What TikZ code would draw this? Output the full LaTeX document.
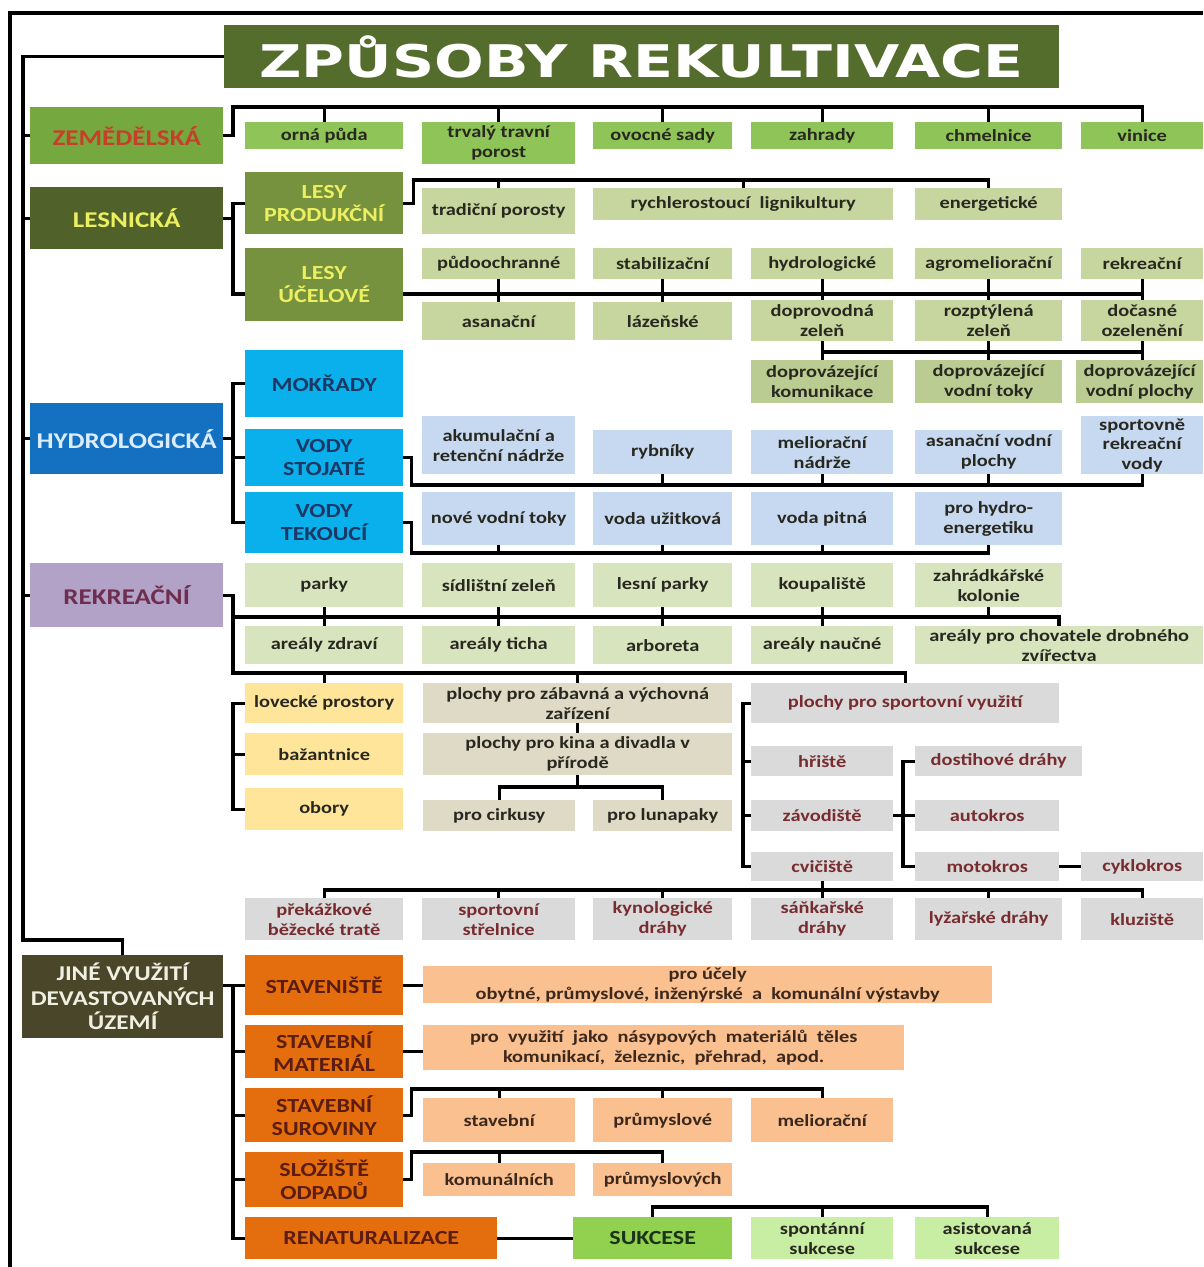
\documentclass[tikz,border=0pt]{standalone}
\usepackage{fontspec}
\newfontface\bx{Carlito Bold}[FakeStretch=1.2]
\newfontface\ttlf{DejaVu Sans Bold}[FakeStretch=1.3]
\usetikzlibrary{calc}
\definecolor{cTitle}{RGB}{84,108,44}
\definecolor{cZem}{RGB}{118,168,64}
\definecolor{tZem}{RGB}{196,64,40}
\definecolor{cZemL}{RGB}{143,196,88}
\definecolor{cLes}{RGB}{80,98,42}
\definecolor{tYel}{RGB}{236,240,96}
\definecolor{cLesy}{RGB}{118,146,62}
\definecolor{cOliveL}{RGB}{198,214,158}
\definecolor{cOliveM}{RGB}{186,204,146}
\definecolor{cHyd}{RGB}{20,112,192}
\definecolor{tHyd}{RGB}{220,236,255}
\definecolor{cCyan}{RGB}{10,176,236}
\definecolor{tNavy}{RGB}{28,56,100}
\definecolor{cBlueL}{RGB}{198,217,240}
\definecolor{cRek}{RGB}{178,162,200}
\definecolor{tRek}{RGB}{110,46,80}
\definecolor{cRekL}{RGB}{216,228,190}
\definecolor{cYel}{RGB}{254,229,154}
\definecolor{cBeige}{RGB}{222,218,198}
\definecolor{cGray}{RGB}{218,218,218}
\definecolor{tMaroon}{RGB}{120,44,48}
\definecolor{cJine}{RGB}{74,70,42}
\definecolor{tJine}{RGB}{240,240,226}
\definecolor{cOr}{RGB}{228,110,14}
\definecolor{tOr}{RGB}{92,28,16}
\definecolor{cOrL}{RGB}{250,192,144}
\definecolor{tOrL}{RGB}{60,40,28}
\definecolor{cSuk}{RGB}{146,208,80}
\definecolor{tSuk}{RGB}{26,52,26}
\definecolor{cSukL}{RGB}{200,238,164}
\definecolor{tDark}{RGB}{40,40,32}
\newcommand\mybox[7]{\node[#6, anchor=north west, minimum width={(#4)-(#2)}, minimum height={(#5)-(#3)}] (#1) at (#2,#3) {#7};}
\tikzset{
  basebox/.style={inner sep=0pt, align=center, draw=none},
  leaf/.style={basebox, font=\bx\fontsize{17}{20}\selectfont, text=tDark},
  subbox/.style={basebox, font=\bx\fontsize{20}{23}\selectfont},
  catbox/.style={basebox, font=\bx\fontsize{22.5}{25}\selectfont},
  ttlbox/.style={basebox, fill=cTitle, text=white, font=\ttlf\fontsize{45}{48}\selectfont},
  jinbox/.style={basebox, fill=cJine, text=tJine, font=\bx\fontsize{21}{24.5}\selectfont},
  lfZem/.style={leaf, fill=cZemL},
  lfOl/.style={leaf, fill=cOliveL},
  lfOm/.style={leaf, fill=cOliveM},
  lfBl/.style={leaf, fill=cBlueL},
  lfRk/.style={leaf, fill=cRekL},
  lfYe/.style={leaf, fill=cYel},
  lfBe/.style={leaf, fill=cBeige},
  lfGr/.style={leaf, fill=cGray, text=tMaroon},
  lfOr/.style={leaf, fill=cOrL, text=tOrL},
  lfSk/.style={leaf, fill=cSukL},
  lesy/.style={subbox, fill=cLesy, text=tYel},
  voda/.style={subbox, fill=cCyan, text=tNavy},
  oran/.style={subbox, fill=cOr, text=tOr},
  ln/.style={line width=3.4pt, draw=black}
}
\begin{document}
\begin{tikzpicture}[x=1pt,y=-1pt]
\fill[white] (0,0) rectangle (1203,1267);
\useasboundingbox (0,0) rectangle (1203,1267);
% ---------- nodes ----------
\mybox{title}{224}{25}{1059}{88}{ttlbox}{ZPŮSOBY REKULTIVACE}
\mybox{zem}{30}{107}{223}{164}{catbox,fill=cZem,text=tZem}{ZEMĚDĚLSKÁ}
\mybox{les}{30}{187}{223}{249}{catbox,fill=cLes,text=tYel}{LESNICKÁ}
\mybox{hyd}{30}{403}{223}{474}{catbox,fill=cHyd,text=tHyd}{HYDROLOGICKÁ}
\mybox{rek}{30}{563}{223}{627}{catbox,fill=cRek,text=tRek}{REKREAČNÍ}
\mybox{jine}{22}{955}{223}{1038}{jinbox}{JINÉ VYUŽITÍ\\DEVASTOVANÝCH\\ÚZEMÍ}
% zemedelska
\mybox{orna}{245}{122}{403}{149}{lfZem}{orná půda}
\mybox{trvaly}{422}{122}{575}{164}{lfZem}{trvalý travní\\porost}
\mybox{ovocne}{593}{122}{732}{149}{lfZem}{ovocné sady}
\mybox{zahrady}{751}{122}{893}{149}{lfZem}{zahrady}
\mybox{chmel}{915}{122}{1062}{149}{lfZem}{chmelnice}
\mybox{vinice}{1081}{122}{1203}{149}{lfZem}{vinice}
% lesnicka
\mybox{lprod}{245}{172}{403}{234}{lesy}{LESY\\PRODUKČNÍ}
\mybox{luc}{245}{248}{403}{321}{lesy}{LESY\\ÚČELOVÉ}
\mybox{trad}{422}{188}{575}{234}{lfOl}{tradiční porosty}
\mybox{rych}{593}{188}{893}{220}{lfOl}{rychlerostoucí\ \ lignikultury}
\mybox{energ}{915}{188}{1062}{220}{lfOl}{energetické}
\mybox{pudo}{422}{248}{575}{279}{lfOl}{půdoochranné}
\mybox{stab}{593}{248}{732}{279}{lfOl}{stabilizační}
\mybox{hydr}{751}{248}{893}{279}{lfOl}{hydrologické}
\mybox{agro}{915}{248}{1062}{279}{lfOl}{agromeliorační}
\mybox{rekr}{1081}{248}{1203}{279}{lfOl}{rekreační}
\mybox{asan}{422}{302}{575}{340}{lfOl}{asanační}
\mybox{laz}{593}{302}{732}{340}{lfOl}{lázeňské}
\mybox{doprov}{751}{300}{893}{341}{lfOl}{doprovodná\\zeleň}
\mybox{rozpt}{915}{300}{1062}{341}{lfOl}{rozptýlená\\zeleň}
\mybox{docas}{1081}{300}{1203}{341}{lfOl}{dočasné\\ozelenění}
\mybox{dk}{751}{360}{893}{403}{lfOm}{doprovázející\\komunikace}
\mybox{dt}{915}{360}{1062}{403}{lfOm}{doprovázející\\vodní toky}
\mybox{dp}{1076}{360}{1203}{403}{lfOm}{doprovázející\\vodní plochy}
% hydrologicka
\mybox{mok}{245}{350}{403}{417}{voda}{MOKŘADY}
\mybox{vst}{245}{429}{403}{486}{voda}{VODY\\STOJATÉ}
\mybox{vtek}{245}{492}{403}{553}{voda}{VODY\\TEKOUCÍ}
\mybox{akum}{422}{416}{575}{474}{lfBl}{akumulační a\\retenční nádrže}
\mybox{ryb}{593}{430}{732}{474}{lfBl}{rybníky}
\mybox{melnad}{751}{430}{893}{474}{lfBl}{meliorační\\nádrže}
\mybox{asvod}{915}{430}{1062}{474}{lfBl}{asanační vodní\\plochy}
\mybox{spr}{1081}{416}{1203}{474}{lfBl,font=\bx\fontsize{17}{19.5}\selectfont}{sportovně\\rekreační\\vody}
\mybox{nove}{422}{492}{575}{545}{lfBl}{nové vodní toky}
\mybox{uzit}{593}{492}{732}{545}{lfBl}{voda užitková}
\mybox{pitna}{751}{492}{893}{545}{lfBl}{voda pitná}
\mybox{hydroen}{915}{492}{1062}{545}{lfBl}{pro hydro-\\energetiku}
% rekreacni
\mybox{parky}{245}{563}{403}{607}{lfRk}{parky}
\mybox{sidl}{422}{563}{575}{607}{lfRk}{sídlištní zeleň}
\mybox{lesni}{593}{563}{732}{607}{lfRk}{lesní parky}
\mybox{koup}{751}{563}{893}{607}{lfRk}{koupaliště}
\mybox{zahr}{915}{563}{1062}{607}{lfRk}{zahrádkářské\\kolonie}
\mybox{zdravi}{245}{626}{403}{664}{lfRk}{areály zdraví}
\mybox{ticha}{422}{626}{575}{664}{lfRk}{areály ticha}
\mybox{arbo}{593}{626}{732}{664}{lfRk}{arboreta}
\mybox{naucne}{751}{626}{893}{664}{lfRk}{areály naučné}
\mybox{chov}{915}{626}{1203}{664}{lfRk}{areály pro chovatele drobného\\zvířectva}
\mybox{lov}{245}{683}{403}{723}{lfYe}{lovecké prostory}
\mybox{baz}{245}{733}{403}{775}{lfYe}{bažantnice}
\mybox{obo}{245}{788}{403}{830}{lfYe}{obory}
\mybox{zab}{423}{683}{732}{723}{lfBe}{plochy pro zábavná a výchovná\\zařízení}
\mybox{kina}{423}{733}{732}{775}{lfBe}{plochy pro kina a divadla v\\přírodě}
\mybox{cirk}{423}{800}{575}{831}{lfBe}{pro cirkusy}
\mybox{luna}{593}{800}{732}{831}{lfBe}{pro lunapaky}
\mybox{sport}{751}{683}{1059}{723}{lfGr}{plochy pro sportovní využití}
\mybox{hrist}{751}{746}{893}{776}{lfGr}{hřiště}
\mybox{zavod}{751}{800}{893}{831}{lfGr}{závodiště}
\mybox{cvic}{751}{852}{893}{881}{lfGr}{cvičiště}
\mybox{dost}{915}{746}{1082}{776}{lfGr}{dostihové dráhy}
\mybox{auto}{915}{800}{1059}{831}{lfGr}{autokros}
\mybox{moto}{915}{852}{1059}{881}{lfGr}{motokros}
\mybox{cyklo}{1081}{852}{1203}{881}{lfGr}{cyklokros}
\mybox{prek}{245}{898}{403}{940}{lfGr}{překážkové\\běžecké tratě}
\mybox{strel}{422}{898}{575}{940}{lfGr}{sportovní\\střelnice}
\mybox{kyno}{593}{898}{732}{940}{lfGr}{kynologické\\dráhy}
\mybox{sank}{751}{898}{893}{940}{lfGr}{sáňkařské\\dráhy}
\mybox{lyz}{915}{898}{1062}{940}{lfGr}{lyžařské dráhy}
\mybox{kluz}{1081}{898}{1203}{940}{lfGr}{kluziště}
% jine vyuziti
\mybox{stav}{245}{955}{403}{1015}{oran}{STAVENIŠTĚ}
\mybox{mat}{245}{1025}{403}{1078}{oran}{STAVEBNÍ\\MATERIÁL}
\mybox{sur}{245}{1088}{403}{1142}{oran}{STAVEBNÍ\\SUROVINY}
\mybox{slo}{245}{1152}{403}{1207}{oran}{SLOŽIŠTĚ\\ODPADŮ}
\mybox{ren}{245}{1217}{497}{1259}{oran}{RENATURALIZACE}
\mybox{ucely}{423}{966}{992}{1003}{lfOr}{pro účely\\obytné, průmyslové, inženýrské\ \ a\ \ komunální výstavby}
\mybox{nasyp}{423}{1025}{904}{1070}{lfOr}{pro\ \ využití\ \ jako\ \ násypových\ \ materiálů\ \ těles\\komunikací,\ \ železnic,\ \ přehrad,\ \ apod.}
\mybox{stavebni}{423}{1098}{575}{1142}{lfOr}{stavební}
\mybox{prumysl}{593}{1098}{732}{1142}{lfOr}{průmyslové}
\mybox{melio}{751}{1098}{893}{1142}{lfOr}{meliorační}
\mybox{komun}{423}{1163}{575}{1196}{lfOr}{komunálních}
\mybox{prumyslovych}{593}{1163}{732}{1196}{lfOr}{průmyslových}
\mybox{suk}{573}{1217}{732}{1259}{subbox,fill=cSuk,text=tSuk}{SUKCESE}
\mybox{spont}{751}{1217}{893}{1259}{lfSk}{spontánní\\sukcese}
\mybox{asist}{915}{1217}{1059}{1259}{lfSk}{asistovaná\\sukcese}
% ---------- helper coordinates ----------
\coordinate (frtl) at (10,13);
\coordinate (frtr) at (1203,13);
\coordinate (frbl) at (10,1267);
\coordinate (innerx) at (23,0);
\coordinate (jbend) at (0,940);
\coordinate (bx1) at (233,0);
\coordinate (bx3) at (743,0);
\coordinate (bx4) at (903,0);
\coordinate (zbus) at (0,107);
\coordinate (lpbus) at (0,180);
\coordinate (lucbus) at (0,294);
\coordinate (dzbus) at (0,352);
\coordinate (vsbus) at (0,485);
\coordinate (vtbus) at (0,553);
\coordinate (rbus1) at (0,617);
\coordinate (rbus2) at (0,673);
\coordinate (rb1end) at (1059,617);
\coordinate (kbus) at (0,787);
\coordinate (sbus) at (0,890);
\coordinate (surbus) at (0,1089);
\coordinate (slobus) at (0,1152);
\coordinate (sukbus) at (0,1207);
% ---------- connectors ----------
\draw[ln] (frtr) -- (frtl) -- (frbl);
\draw[ln] (title.west) -- (title.west -| innerx) -- (innerx |- jbend) -| (jine.north);
\foreach \n in {zem,les,hyd,rek} {\draw[ln] (\n.west) -- (\n.west -| innerx);}
% zemedelska
\draw[ln] (zem.east) -- (zem.east -| bx1) |- (vinice.north |- zbus) -- (vinice.north);
\foreach \n in {orna,trvaly,ovocne,zahrady,chmel} {\draw[ln] (\n.north) -- (\n.north |- zbus);}
% lesnicka
\draw[ln] (les.east) -- (les.east -| bx1);
\draw[ln] (lprod.west) -- (lprod.west -| bx1) -- (bx1 |- lucbus) -- (luc.west |- lucbus);
\draw[ln] (lprod.east) -- ++(10,0) |- (energ.north |- lpbus) -- (energ.north);
\foreach \n in {trad,rych} {\draw[ln] (\n.north) -- (\n.north |- lpbus);}
\draw[ln] (luc.east |- lucbus) -- (rekr.south |- lucbus);
\draw[ln] (pudo.south) -- (asan.north);
\draw[ln] (stab.south) -- (laz.north);
\draw[ln] (hydr.south) -- (doprov.north);
\draw[ln] (agro.south) -- (rozpt.north);
\draw[ln] (rekr.south) -- (docas.north);
\draw[ln] (doprov.south) -- (dk.north);
\draw[ln] (doprov.south |- dzbus) -- (docas.south |- dzbus);
\draw[ln] (rozpt.south) -- (rozpt.south |- dt.north);
\draw[ln] (docas.south) -- (docas.south |- dp.north);
% hydrologicka
\draw[ln] (hyd.east) -- (hyd.east -| bx1);
\draw[ln] (mok.west) -- (mok.west -| bx1) -- (vtek.west -| bx1) -- (vtek.west);
\draw[ln] (vst.west) -- (vst.west -| bx1);
\draw[ln] (vst.east) -- ++(8,0) |- (spr.south |- vsbus) -- (spr.south);
\foreach \n in {ryb,melnad,asvod} {\draw[ln] (\n.south) -- (\n.south |- vsbus);}
\draw[ln] (vtek.east) -- ++(8,0) |- (hydroen.south |- vtbus) -- (hydroen.south);
\foreach \n in {nove,uzit,pitna} {\draw[ln] (\n.south) -- (\n.south |- vtbus);}
% rekreacni
\draw[ln] (rek.east) -- (rek.east -| bx1) -- (bx1 |- rbus2) -- (sport.north |- rbus2) -- (sport.north);
\draw[ln] (bx1 |- rbus1) -- (rb1end) -- (rb1end |- chov.north);
\draw[ln] (parky.south) -- (zdravi.north);
\draw[ln] (sidl.south) -- (ticha.north);
\draw[ln] (lesni.south) -- (arbo.north);
\draw[ln] (koup.south) -- (naucne.north);
\draw[ln] (zahr.south) -- (zahr.south |- rbus1);
\draw[ln] (lov.north) -- (lov.north |- rbus2);
\draw[ln] (zab.north) -- (zab.north |- rbus2);
\draw[ln] (lov.west) -- (lov.west -| bx1) -- (obo.west -| bx1) -- (obo.west);
\draw[ln] (baz.west) -- (baz.west -| bx1);
\draw[ln] (zab.south) -- (kina.north);
\draw[ln] (kina.south) -- (kina.south |- kbus);
\draw[ln] (cirk.north) -- (cirk.north |- kbus) -- (luna.north |- kbus) -- (luna.north);
\draw[ln] (sport.west) -- (sport.west -| bx3) -- (cvic.west -| bx3) -- (cvic.west);
\draw[ln] (hrist.west) -- (hrist.west -| bx3);
\draw[ln] (zavod.west) -- (zavod.west -| bx3);
\draw[ln] (dost.west) -- (dost.west -| bx4) -- (moto.west -| bx4) -- (moto.west);
\draw[ln] (zavod.east) -- (auto.west);
\draw[ln] (moto.east) -- (cyklo.west);
\draw[ln] (cvic.south) -- (cvic.south |- sbus);
\draw[ln] (prek.north) -- (prek.north |- sbus) -- (kluz.north |- sbus) -- (kluz.north);
\foreach \n in {strel,kyno,sank,lyz} {\draw[ln] (\n.north) -- (\n.north |- sbus);}
% jine vyuziti
\draw[ln] (stav.west) -- (stav.west -| jine.east);
\draw[ln] (stav.west -| bx1) -- (ren.west -| bx1) -- (ren.west);
\foreach \n in {mat,sur,slo} {\draw[ln] (\n.west) -- (\n.west -| bx1);}
\draw[ln] (stav.east) -- (stav.east -| ucely.west);
\draw[ln] (mat.east) -- (mat.east -| nasyp.west);
\draw[ln] (sur.east) -- ++(8,0) |- (melio.north |- surbus) -- (melio.north);
\foreach \n in {stavebni,prumysl} {\draw[ln] (\n.north) -- (\n.north |- surbus);}
\draw[ln] (slo.east) -- ++(8,0) |- (prumyslovych.north |- slobus) -- (prumyslovych.north);
\draw[ln] (komun.north) -- (komun.north |- slobus);
\draw[ln] (ren.east) -- (suk.west);
\draw[ln] (suk.north) -- (suk.north |- sukbus) -- (asist.north |- sukbus) -- (asist.north);
\draw[ln] (spont.north) -- (spont.north |- sukbus);
\end{tikzpicture}
\end{document}
